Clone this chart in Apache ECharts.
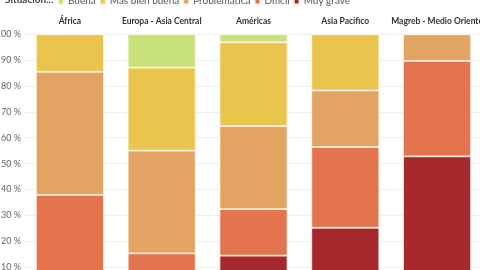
<!DOCTYPE html>
<html>
<head>
<meta charset="utf-8">
<script src="https://cdn.jsdelivr.net/npm/echarts@6/dist/echarts.min.js"></script>
<style>
  html, body { margin: 0; padding: 0; background: #fff; }
  #chart { width: 480px; height: 270px; }
</style>
</head>
<body>
<div id="chart"></div>
<script>
// regiones (una columna por región)
const regiones = ['África', 'Europa - Asia Central', 'Américas', 'Asia Pacífico', 'Magreb - Medio Oriente']

// porcentaje por situación, en el mismo orden que las regiones
const muyGrave = [0, 0, 14.4, 25.2, 52.8]
const dificil = [37.9, 15.3, 18.0, 31.2, 36.9]
const problematica = [47.6, 39.7, 32.1, 21.9, 10.3]
const masBienBuena = [14.5, 32.1, 32.4, 21.7, 0]
const buena = [0, 12.9, 3.1, 0, 0]

const yTicks = [0, 10, 20, 30, 40, 50, 60, 70, 80, 90, 100]

const colores = {
  'Buena': '#c9e17b',
  'Más bien buena': '#eac54d',
  'Problemática': '#e3a363',
  'Difícil': '#e3744e',
  'Muy grave': '#a5292c'
}

const chart = echarts.init(document.getElementById('chart'))

// apilado de abajo hacia arriba
const capas = [
  ['Muy grave', muyGrave],
  ['Difícil', dificil],
  ['Problemática', problematica],
  ['Más bien buena', masBienBuena],
  ['Buena', buena]
]

const series = capas.map(([name, values]) => ({
  name,
  type: 'bar',
  stack: 'total',
  barWidth: 68,
  data: values,
  itemStyle: {
    color: colores[name],
    borderColor: '#fdf6ea',
    borderWidth: 0.8
  },
  emphasis: { disabled: true }
}))

chart.setOption({
  animation: false,
  textStyle: { fontFamily: 'Lato' },
  title: {
    text: 'Situación...',
    left: 0,
    top: -10,
    textStyle: { fontSize: 10, fontWeight: 'bold', color: '#444', fontFamily: 'Lato' }
  },
  legend: {
    left: 52,
    top: -9,
    itemWidth: 6,
    itemHeight: 7,
    itemGap: 3,
    icon: 'rect',
    selectedMode: false,
    data: ['Buena', 'Más bien buena', 'Problemática', 'Difícil', 'Muy grave'],
    textStyle: { fontSize: 10, color: '#555', padding: [0, 0, 0, -1] }
  },
  grid: {
    left: 24,
    right: -3,
    top: 34.3,
    bottom: -22.9,
    containLabel: false,
    outerBoundsMode: 'none'
  },
  xAxis: {
    type: 'category',
    position: 'top',
    data: regiones,
    axisLine: { show: false },
    axisTick: { show: false },
    axisLabel: {
      interval: 0,
      fontSize: 8.5,
      fontWeight: 'bold',
      color: '#333',
      margin: 9
    }
  },
  yAxis: {
    type: 'value',
    min: yTicks[0],
    max: yTicks[yTicks.length - 1],
    interval: 10,
    axisLine: { show: false },
    axisTick: { show: false },
    axisLabel: {
      fontSize: 9,
      color: '#666',
      margin: 3,
      formatter: v => v + ' %'
    },
    splitLine: { lineStyle: { color: '#eeeeee', width: 1 } }
  },
  series
})
</script>
</body>
</html>
